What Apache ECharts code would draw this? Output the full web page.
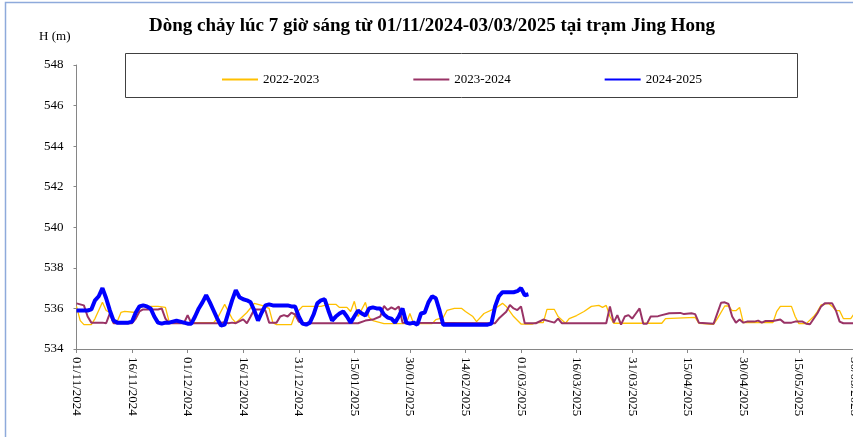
<!DOCTYPE html>
<html>
<head>
<meta charset="utf-8">
<script src="https://cdn.jsdelivr.net/npm/echarts@6/dist/echarts.min.js"></script>
<style>
  html, body { margin: 0; padding: 0; background: #fff; }
  #chart { width: 853px; height: 437px; }
</style>
</head>
<body>
<div id="chart"></div>
<script>
  // tick labels every 15 days from 01/11/2024
  var xTicks = ['01/11/2024', '16/11/2024', '01/12/2024', '16/12/2024', '31/12/2024', '15/01/2025', '30/01/2025',
    '14/02/2025', '01/03/2025', '16/03/2025', '31/03/2025', '15/04/2025', '30/04/2025', '15/05/2025', '30/05/2025', '14/06/2025']

  // 2022-2023 (day index from 01/11, level m)
  var days2223 = [0, 1, 2, 4, 5, 7, 8, 9, 10, 11, 12, 13, 16, 17, 18, 22, 24, 25, 26, 37, 38, 40, 42, 43, 44, 46, 48, 50, 52, 53, 54, 58, 59, 61,
    66, 68, 70, 71, 73, 74, 75, 76, 78, 79, 80, 82, 83, 89, 90, 91, 96, 97, 99, 100, 102, 104, 105, 107, 108, 110, 113, 115, 116, 118, 120,
    123, 124, 126, 127, 129, 130, 132, 133, 135, 137, 139, 141, 142, 143, 144, 145, 158, 159, 167, 168, 172, 173, 175, 176, 177, 178, 179,
    180, 188, 189, 190, 193, 194, 195, 197, 199, 200, 201, 203, 204, 205, 206, 207, 209, 210, 211, 212]
  var h2223 = [536.1, 535.4, 535.2, 535.2, 535.5, 536.3, 535.9, 535.8, 535.3, 535.35, 535.8, 535.85, 535.8, 536.0, 536.1, 536.1, 536.05, 535.35, 535.3, 535.3, 535.5, 536.2, 535.5, 535.3, 535.45, 535.8, 536.25, 536.15, 536.0, 535.3, 535.2, 535.2, 535.7, 536.1,
    536.1, 536.2, 536.2, 536.05, 536.05, 535.85, 536.35, 535.6, 536.3, 535.55, 535.4, 535.3, 535.25, 535.25, 535.75, 535.25, 535.25, 535.45, 535.55, 535.9, 536.0, 536.0, 535.85, 535.6, 535.35, 535.75, 536.0, 536.25, 536.1, 535.6, 535.23,
    535.23, 535.3, 535.3, 535.95, 535.95, 535.6, 535.27, 535.5, 535.65, 535.85, 536.1, 536.15, 536.05, 536.15, 535.6, 535.27, 535.27, 535.5, 535.56, 535.27, 535.22, 535.5, 536.12, 536.12, 535.89, 535.89, 536.05,
    535.3, 535.3, 535.84, 536.1, 536.1, 535.6, 535.25, 535.25, 535.6, 535.84, 536.17, 536.25, 536.1, 535.89, 535.89, 535.5, 535.5, 535.76, 536.17, 536.3]

  // 2023-2024
  var days2324 = [0, 1, 2, 3, 4, 7, 8, 9, 10, 15, 16, 17, 18, 20, 22, 23, 24, 25, 29, 30, 31, 38, 40, 41, 42, 43, 45, 46, 47, 48, 50, 51, 52, 54, 55, 56, 57, 58, 59, 60, 61,
    76, 78, 80, 82, 83, 84, 85, 86, 87, 88, 113, 114, 116, 117, 118, 119, 120, 121, 124, 126, 127, 129, 130, 131, 143, 144, 145, 146, 147, 148, 149, 150, 151, 152, 153, 154,
    155, 157, 158, 160, 163, 164, 166, 167, 168, 172, 174, 175, 176, 177, 178, 179, 180, 181, 183, 184, 185, 186, 188, 190, 191, 193, 194, 196, 197, 198, 200, 201, 202, 204, 205, 206, 207, 212]
  var h2324 = [536.25, 536.2, 536.15, 535.6, 535.3, 535.3, 535.27, 535.76, 535.27, 535.27, 535.5, 535.85, 535.95, 535.95, 535.95, 536.0, 535.5, 535.27, 535.27, 535.67, 535.27, 535.27, 535.32, 535.27, 535.3, 535.27, 535.46, 535.27, 535.6, 535.95, 535.95, 535.9, 535.3, 535.3, 535.6, 535.67, 535.6, 535.79, 535.7, 535.35, 535.27,
    535.27, 535.4, 535.45, 535.6, 536.12, 535.92, 536.05, 535.95, 536.1, 535.3, 535.27, 535.5, 535.84, 536.17, 536.0, 535.92, 536.1, 535.27, 535.27, 535.45, 535.4, 535.3, 535.5, 535.27, 535.27, 536.1, 535.3, 535.67, 535.2, 535.6, 535.67, 535.5, 535.75, 536.0, 535.25, 535.25,
    535.6, 535.62, 535.67, 535.76, 535.78, 535.72, 535.76, 535.72, 535.3, 535.25, 536.28, 536.3, 536.22, 535.6, 535.3, 535.46, 535.3, 535.35, 535.35, 535.4, 535.3, 535.38, 535.38, 535.45, 535.3, 535.3, 535.35, 535.35, 535.25, 535.22, 535.76, 536.1, 536.25, 536.25, 535.9, 535.35, 535.27, 535.27]

  // 2024-2025, one value per day from 01/11/2024 to 03/03/2025
  var h2425 = [535.9, 535.9, 535.9, 535.9, 535.95, 536.4, 536.6, 537.0, 536.5, 535.9,
    535.4, 535.3, 535.3, 535.3, 535.3, 535.35, 535.8, 536.1, 536.15, 536.1,
    536.0, 535.6, 535.3, 535.25, 535.3, 535.3, 535.35, 535.4, 535.35, 535.3,
    535.25, 535.25, 535.6, 536.0, 536.3, 536.65, 536.3, 535.9, 535.5, 535.15,
    535.2, 535.8, 536.4, 536.9, 536.55, 536.45, 536.4, 536.3, 535.9, 535.4,
    535.8, 536.15, 536.2, 536.15, 536.15, 536.15, 536.15, 536.15, 536.1, 536.1,
    535.6, 535.25, 535.2, 535.3, 535.7, 536.25, 536.4, 536.45, 535.9, 535.4,
    535.6, 535.75, 535.85, 535.6, 535.3, 535.6, 535.9, 535.75, 535.65, 536.0,
    536.05, 536.0, 536.0, 535.7, 535.55, 535.5, 535.3, 535.6, 536.0, 535.3,
    535.25, 535.3, 535.2, 535.75, 535.8, 536.3, 536.6, 536.5, 535.9, 535.2,
    535.2, 535.2, 535.2, 535.2, 535.2, 535.2, 535.2, 535.2, 535.2, 535.2,
    535.2, 535.2, 535.25, 536.1, 536.6, 536.8, 536.8, 536.8, 536.8, 536.85,
    537.0, 536.65, 536.7]

  var font = 'Liberation Serif'
  var chart = echarts.init(document.getElementById('chart'))

  chart.setOption({
    animation: false,
    title: {
      text: 'Dòng chảy lúc 7 giờ sáng từ 01/11/2024-03/03/2025 tại trạm Jing Hong',
      left: 427,
      textAlign: 'center',
      top: 12,
      textStyle: { fontFamily: font, fontSize: 19, fontWeight: 'bold', color: '#000' }
    },
    graphic: [
      {
        type: 'rect',
        shape: { x: 5.5, y: 2.5, width: 1000, height: 1000 },
        style: { fill: 'none', stroke: '#8eaadb', lineWidth: 1.5 },
        silent: true
      },
      {
        type: 'rect',
        shape: { x: 125.5, y: 53.5, width: 672, height: 44 },
        style: { fill: '#fff', stroke: '#404040', lineWidth: 1 },
        silent: true,
        z: 0
      }
    ],
    legend: {
      left: 216,
      top: 68,
      itemWidth: 36,
      itemHeight: 14,
      itemGap: 93,
      itemStyle: { opacity: 0 },
      textStyle: { fontFamily: font, fontSize: 13, color: '#000' },
      data: ['2022-2023', '2023-2024', '2024-2025']
    },
    grid: {
      left: 76.5,
      top: 65,
      bottom: 88,
      right: -57,
      outerBoundsMode: 'none'
    },
    xAxis: {
      type: 'value',
      min: 0,
      max: 225,
      interval: 15,
      splitLine: { show: false },
      axisLine: { lineStyle: { color: '#868686', width: 1 } },
      axisTick: { length: 4, lineStyle: { color: '#868686' } },
      axisLabel: {
        rotate: -90,
        margin: 8,
        fontFamily: font,
        fontSize: 13,
        color: '#000',
        formatter: function (v) { return xTicks[Math.round(v / 15)] || '' }
      }
    },
    yAxis: {
      type: 'value',
      min: 534,
      max: 548,
      interval: 2,
      name: 'H (m)',
      nameGap: 22,
      nameTextStyle: { fontFamily: font, fontSize: 13, color: '#000', align: 'right', padding: [0, 6, 0, 0] },
      splitLine: { show: false },
      axisLine: { show: true, lineStyle: { color: '#868686', width: 1 } },
      axisTick: { show: true, length: 3, lineStyle: { color: '#868686' } },
      axisLabel: { margin: 13, fontFamily: font, fontSize: 13, color: '#000' }
    },
    series: [
      {
        name: '2022-2023',
        type: 'line',
        symbol: 'none',
        lineStyle: { width: 1.3, color: '#ffc000' },
        itemStyle: { color: '#ffc000' },
        data: days2223.map(function (d, i) { return [d, h2223[i]] })
      },
      {
        name: '2023-2024',
        type: 'line',
        symbol: 'none',
        lineStyle: { width: 2, color: '#993366' },
        itemStyle: { color: '#993366' },
        data: days2324.map(function (d, i) { return [d, h2324[i]] })
      },
      {
        name: '2024-2025',
        type: 'line',
        symbol: 'none',
        lineStyle: { width: 4, color: '#0000ff' },
        itemStyle: { color: '#0000ff' },
        data: h2425.map(function (v, i) { return [i, v] })
      }
    ]
  })
</script>
</body>
</html>
